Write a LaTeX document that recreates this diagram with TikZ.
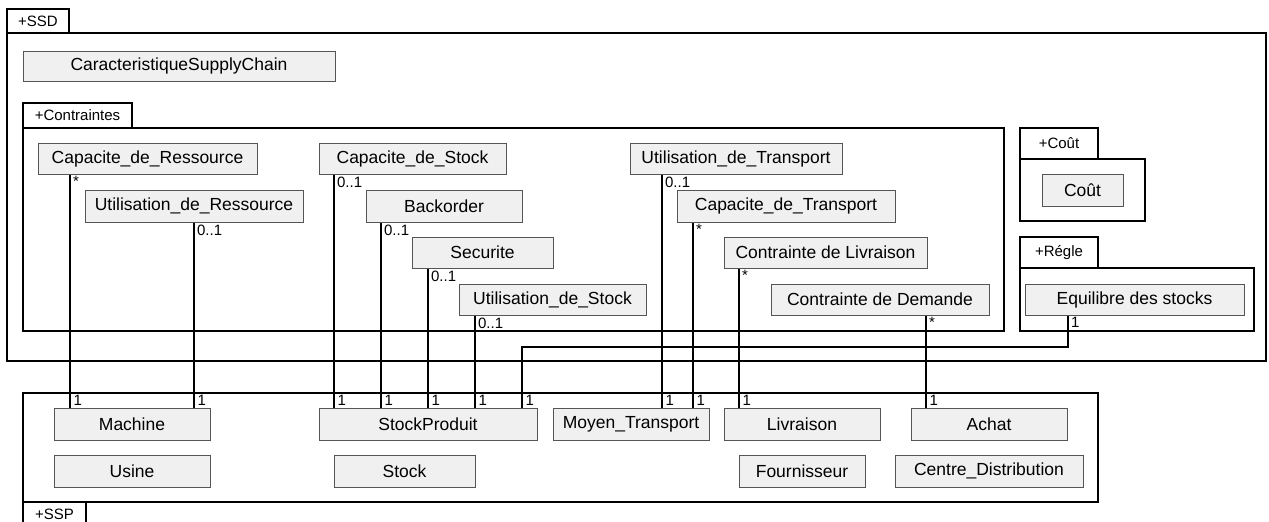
\documentclass[tikz,border=0pt]{standalone}
\usepackage{fontspec}
\setmainfont{Liberation Sans}
\definecolor{boxfill}{HTML}{F0F0F0}
\definecolor{boxline}{HTML}{555555}
\tikzset{
  cls/.style={draw=boxline, fill=boxfill, line width=1pt, inner sep=0pt, font=\fontsize{17.5}{20}\selectfont},
  tabsmall/.style={draw=black, fill=white, line width=1.2pt, inner sep=0pt, font=\fontsize{15}{17}\selectfont},
  tabbig/.style={draw=black, fill=white, line width=2.2pt, inner sep=0pt, font=\fontsize{15}{17}\selectfont},
  frame/.style={draw=black, line width=1.3pt},
  bigframe/.style={draw=black, line width=2.4pt},
  conn/.style={draw=black, line width=1.3pt},
  mult/.style={font=\fontsize{15}{17}\selectfont, inner sep=0pt},
  multtop/.style={mult, anchor=north west, xshift=2.5pt, yshift=-1.5pt},
  multbot/.style={mult, anchor=south west, xshift=3pt, yshift=1pt},
}
\newcommand{\umlbox}[7][cls]{\node[#1, minimum width={(#5-#3)*1pt}, minimum height={(#6-#4)*1pt}] (#2) at ({(#3+#5)/2},{(#4+#6)/2}) {#7};}
\begin{document}
\begin{tikzpicture}[x=1pt, y=-1pt]
\useasboundingbox (0,0) rectangle (1269,522);
% frames
\draw[bigframe] (7,33) rectangle (1266,361);
\umlbox[tabbig]{tabssd}{7}{9}{69}{33}{+SSD}
\draw[frame] (23,128) rectangle (1004,331);
\umlbox[tabsmall]{tabcon}{23}{103}{132}{128}{+Contraintes}
\draw[frame] (1020,159) rectangle (1145,221);
\umlbox[tabsmall]{tabcout}{1020}{128}{1098}{159}{+Coût}
\draw[frame] (1020,268) rectangle (1254,331);
\umlbox[tabsmall]{tabregle}{1020}{237}{1098}{268}{+Régle}
\draw[bigframe] (23,393) rectangle (1098,502);
\umlbox[tabbig]{tabssp}{23}{502}{86}{526}{+SSP}
% classes
\umlbox{csc}{23}{51}{335}{81}{CaracteristiqueSupplyChain}
\umlbox{capres}{38}{143}{257}{174}{Capacite\_de\_Ressource}
\umlbox{utilres}{85}{190}{303}{222}{Utilisation\_de\_Ressource}
\umlbox{capstock}{319}{143}{506}{174}{Capacite\_de\_Stock}
\umlbox{backorder}{366}{190}{522}{222}{Backorder}
\umlbox{securite}{412}{237}{553}{268}{Securite}
\umlbox{utilstock}{459}{284}{646}{315}{Utilisation\_de\_Stock}
\umlbox{utiltrans}{630}{143}{842}{174}{Utilisation\_de\_Transport}
\umlbox{captrans}{677}{190}{895}{222}{Capacite\_de\_Transport}
\umlbox{cliv}{724}{237}{927}{268}{Contrainte de Livraison}
\umlbox{cdem}{771}{284}{989}{315}{Contrainte de Demande}
\umlbox{cout}{1042}{174}{1123}{206}{Coût}
\umlbox{equil}{1025}{284}{1244}{315}{Equilibre des stocks}
\umlbox{machine}{54}{408}{210}{440}{Machine}
\umlbox{usine}{54}{455}{210}{487}{Usine}
\umlbox{stockprod}{319}{408}{537}{440}{StockProduit}
\umlbox{stock}{334}{455}{475}{487}{Stock}
\umlbox{moyen}{553}{408}{709}{440}{Moyen\_Transport}
\umlbox{livraison}{724}{408}{880}{440}{Livraison}
\umlbox{achat}{911}{408}{1067}{440}{Achat}
\umlbox{fourn}{739}{455}{865}{487}{Fournisseur}
\umlbox{centre}{895}{455}{1083}{487}{Centre\_Distribution}
% connector columns
\coordinate (k1) at (70,0);
\coordinate (k2) at (194,0);
\coordinate (k3) at (334,0);
\coordinate (k4) at (381,0);
\coordinate (k5) at (428,0);
\coordinate (k6) at (475,0);
\coordinate (k7) at (522,0);
\coordinate (k8) at (662,0);
\coordinate (k9) at (693,0);
\coordinate (k10) at (739,0);
\coordinate (k11) at (926,0);
\coordinate (k12) at (1068,0);
\coordinate (bendA) at (1068,347);
\coordinate (bendB) at (522,347);
% connectors
\draw[conn] (capres.south -| k1) node[multtop]{*} -- (machine.north -| k1) node[multbot]{1};
\draw[conn] (utilres.south -| k2) node[multtop]{0..1} -- (machine.north -| k2) node[multbot]{1};
\draw[conn] (capstock.south -| k3) node[multtop]{0..1} -- (stockprod.north -| k3) node[multbot]{1};
\draw[conn] (backorder.south -| k4) node[multtop]{0..1} -- (stockprod.north -| k4) node[multbot]{1};
\draw[conn] (securite.south -| k5) node[multtop]{0..1} -- (stockprod.north -| k5) node[multbot]{1};
\draw[conn] (utilstock.south -| k6) node[multtop]{0..1} -- (stockprod.north -| k6) node[multbot]{1};
\draw[conn] (equil.south -| k12) node[multtop]{1} -- (bendA) -- (bendB) -- (stockprod.north -| k7) node[multbot]{1};
\draw[conn] (utiltrans.south -| k8) node[multtop]{0..1} -- (moyen.north -| k8) node[multbot]{1};
\draw[conn] (captrans.south -| k9) node[multtop]{*} -- (moyen.north -| k9) node[multbot]{1};
\draw[conn] (cliv.south -| k10) node[multtop]{*} -- (livraison.north -| k10) node[multbot]{1};
\draw[conn] (cdem.south -| k11) node[multtop]{*} -- (achat.north -| k11) node[multbot]{1};
\end{tikzpicture}
\end{document}
